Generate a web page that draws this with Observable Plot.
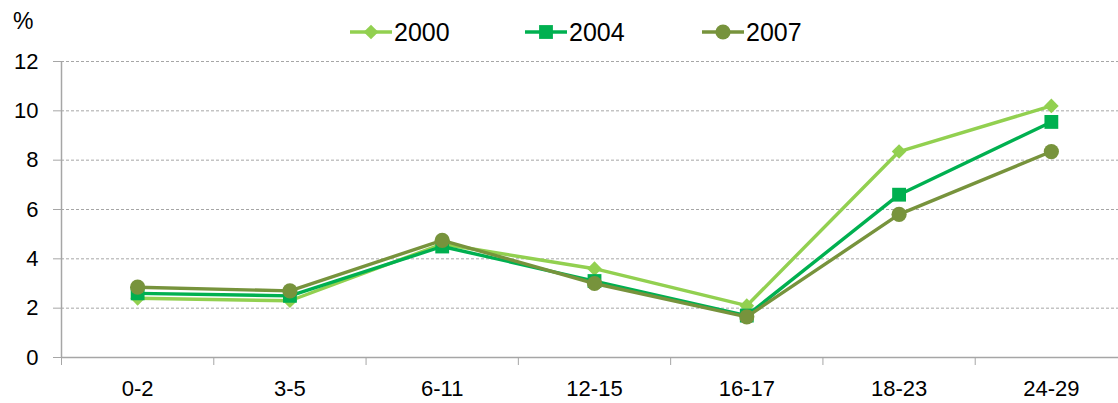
<!DOCTYPE html>
<html><head>
<meta charset="utf-8">
<script src="https://cdn.jsdelivr.net/npm/d3@7"></script>
<script src="https://cdn.jsdelivr.net/npm/@observablehq/plot@0.6"></script>
<style>
body{margin:0;background:#fff;font-family:"Liberation Sans",Arial,sans-serif;}
#wrap{position:relative;width:1118px;height:403px;overflow:hidden;}
#chart{position:absolute;left:0;top:0;}
.leg{position:absolute;top:18px;height:28px;display:flex;align-items:center;font-size:25px;color:#000;}
.leg svg{display:block;margin-right:2px;}
#pct{position:absolute;left:13px;top:8px;font-size:23px;color:#000;}
</style></head><body>
<div id="wrap"><div id="chart"></div><div id="pct">%</div></div>
<script>
const categories = ["0-2","3-5","6-11","12-15","16-17","18-23","24-29"];
const years = ["2000","2004","2007"];
const values2000 = [2.4, 2.3, 4.6, 3.6, 2.1, 8.35, 10.2];
const values2004 = [2.6, 2.5, 4.5, 3.1, 1.7, 6.6, 9.55];
const values2007 = [2.85, 2.7, 4.75, 3.0, 1.65, 5.8, 8.35];
const yTicks = [0, 2, 4, 6, 8, 10, 12];
const colors = ["#92D050", "#00B050", "#77933C"];
const symbols = ["diamond2", "square", "circle"];
const radii = [6.6, 7.8, 7.6];

const seriesValues = [values2000, values2004, values2007];
const data = years.map((y, s) => seriesValues[s].map((v, i) => ({year: y, idx: i, cat: categories[i], value: v})));

const marks = [
  Plot.gridY(yTicks.filter(d => d > 0), {stroke: "#a6a6a6", strokeOpacity: 1, strokeDasharray: "3,2", strokeWidth: 1}),
  Plot.axisY(yTicks, {tickSize: 8, tickPadding: 15, stroke: "#a6a6a6", fill: "#000", label: null, fontSize: 22}),
  Plot.ruleX([-0.5], {stroke: "#a6a6a6", strokeWidth: 1.5}),
  Plot.ruleY([0], {stroke: "#a6a6a6", strokeWidth: 1.5}),
  Plot.axisX(d3.range(-0.5, 7, 1), {tickSize: 8, tickFormat: () => "", stroke: "#a6a6a6", label: null}),
  Plot.axisX(d3.range(7), {tickSize: 0, tickPadding: 23, tickFormat: i => categories[i], fill: "#000", label: null, fontSize: 22})
];
years.forEach((y, s) => {
  marks.push(Plot.line(data[s], {x: "idx", y: "value", stroke: colors[s], strokeWidth: 3.4}));
  marks.push(Plot.dot(data[s], {x: "idx", y: "value", symbol: () => symbols[s], fill: colors[s], stroke: "none", r: radii[s]}));
});

const chart = Plot.plot({
  width: 1118, height: 403,
  marginTop: 61, marginBottom: 46, marginLeft: 61, marginRight: 0,
  style: {fontFamily: "Liberation Sans, Arial, sans-serif", fontSize: "22px", color: "#000", background: "#fff"},
  x: {type: "linear", domain: [-0.5, 6.5], range: [61, 1127]},
  y: {domain: [0, 12]},
  symbol: {domain: symbols, range: symbols},
  marks
});
document.getElementById("chart").appendChild(chart);

// legend
const legLefts = [350, 525, 702];
const wrap = document.getElementById("wrap");
years.forEach((y, s) => {
  const d = document.createElement("div");
  d.className = "leg";
  d.style.left = legLefts[s] + "px";
  const sym = d3.symbol(symbols[s] === "diamond2" ? d3.symbolDiamond2 : symbols[s] === "square" ? d3.symbolSquare : d3.symbolCircle,
    Math.PI * radii[s] * radii[s])();
  d.innerHTML = `<svg width="42" height="20"><line x1="0" x2="42" y1="10" y2="10" stroke="${colors[s]}" stroke-width="3.4"/><path d="${sym}" transform="translate(21,10)" fill="${colors[s]}"/></svg><span>${y}</span>`;
  wrap.appendChild(d);
});
</script>
</body></html>
